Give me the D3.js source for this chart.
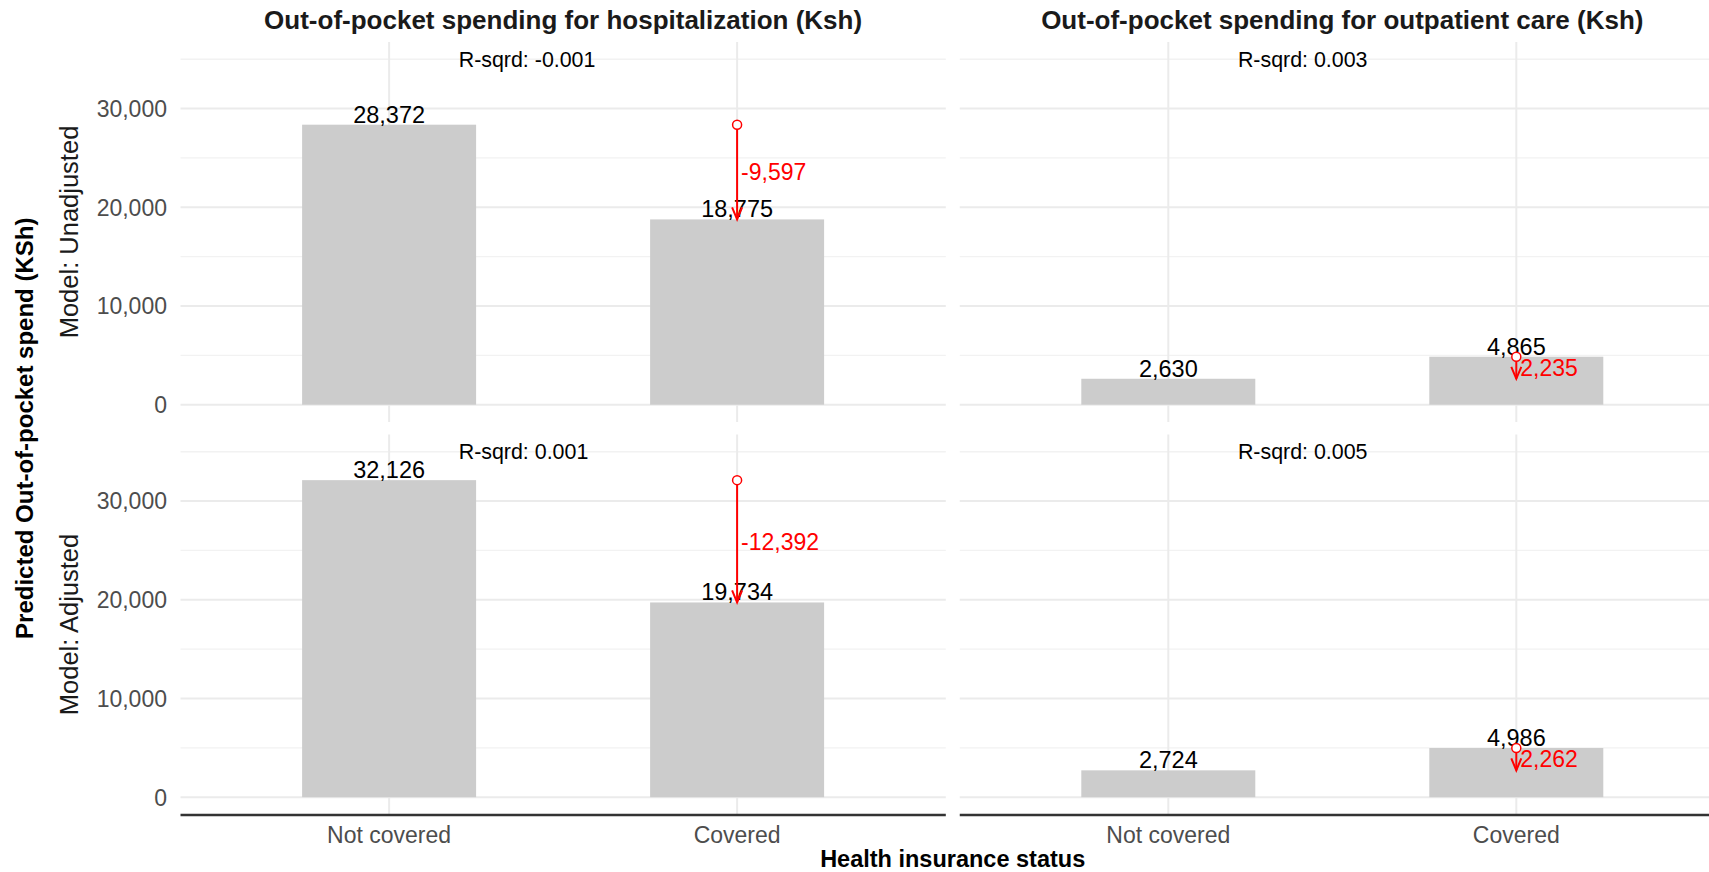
<!DOCTYPE html>
<html>
<head>
<meta charset="utf-8">
<script src="https://cdn.jsdelivr.net/npm/d3@7"></script>
<style>
  body { margin: 0; background: #fff; }
  svg { display: block; font-family: "Liberation Sans", Arial, Helvetica, sans-serif; }
  .grid-major { stroke: #ebebeb; stroke-width: 2; }
  .grid-minor { stroke: #f2f2f2; stroke-width: 1.3; }
  .tick-label { fill: #4d4d4d; font-size: 23px; }
  .bar-label { fill: #000; font-size: 23.5px; }
  .diff-label { fill: #ff0000; font-size: 23px; }
  .rsq-label { fill: #000; font-size: 21.4px; }
</style>
</head>
<body>
<svg id="chart" width="1709" height="872"></svg>
<script>
  // facets
  const rowLabels = ['Model: Unadjusted', 'Model: Adjusted'];
  const colLabels = ['Out-of-pocket spending for hospitalization (Ksh)', 'Out-of-pocket spending for outpatient care (Ksh)'];
  const categories = ['Not covered', 'Covered'];

  // one entry per panel: [unadj hosp, unadj outpatient, adj hosp, adj outpatient]
  const notCoveredValues = [28372, 2630, 32126, 2724];
  const coveredValues = [18775, 4865, 19734, 4986];
  const diffLabels = ['-9,597', '2,235', '-12,392', '2,262'];
  const rsqLabels = ['R-sqrd: -0.001', 'R-sqrd: 0.003', 'R-sqrd: 0.001', 'R-sqrd: 0.005'];
  const rsqY = 35000;

  const majorTicks = [0, 10000, 20000, 30000];
  const minorTicks = [5000, 15000, 25000, 35000];
  const yDomain = [-1750, 36750];

  const svg = d3.select('#chart');
  const fmt = d3.format(',');

  const panelW = 765.6, panelH = 380;
  const colX = [180.3, 959.5];
  const rowY = [42, 434.5];

  const defs = svg.append('defs');
  colX.forEach((x0, c) => {
    defs.append('clipPath').attr('id', 'clip' + c)
      .append('rect').attr('x', x0).attr('y', 0).attr('width', panelW).attr('height', 872);
  });

  rowLabels.forEach((rowLabel, r) => {
    const y0 = rowY[r];
    const y = d3.scaleLinear().domain(yDomain).range([y0 + panelH, y0]);

    // y tick labels, only on left column
    svg.append('g').selectAll('text').data(majorTicks).join('text')
      .attr('class', 'tick-label')
      .attr('x', 167).attr('y', d => y(d)).attr('dy', '0.36em')
      .attr('text-anchor', 'end')
      .text(d => fmt(d));

    // row strip
    svg.append('text')
      .attr('transform', `translate(78,${y0 + panelH / 2}) rotate(-90)`)
      .attr('text-anchor', 'middle')
      .attr('fill', '#1a1a1a')
      .style('font-size', '25.5px')
      .text(rowLabel);

    colLabels.forEach((colLabel, c) => {
      const i = r * 2 + c;
      const x0 = colX[c];
      const x = d3.scalePoint().domain(categories).range([x0, x0 + panelW]).padding(0.6);
      const barW = x.step() * 0.5;
      const g = svg.append('g').attr('clip-path', `url(#clip${c})`);

      g.selectAll('.minor').data(minorTicks).join('line')
        .attr('class', 'grid-minor')
        .attr('x1', x0).attr('x2', x0 + panelW)
        .attr('y1', d => y(d)).attr('y2', d => y(d));
      g.selectAll('.major').data(majorTicks).join('line')
        .attr('class', 'grid-major')
        .attr('x1', x0).attr('x2', x0 + panelW)
        .attr('y1', d => y(d)).attr('y2', d => y(d));
      g.selectAll('.vgrid').data(categories).join('line')
        .attr('class', 'grid-major')
        .attr('x1', d => x(d)).attr('x2', d => x(d))
        .attr('y1', y0).attr('y2', y0 + panelH);

      const vals = [notCoveredValues[i], coveredValues[i]];
      g.selectAll('rect.bar').data(vals).join('rect')
        .attr('class', 'bar')
        .attr('fill', '#cccccc')
        .attr('x', (d, k) => x(categories[k]) - barW / 2)
        .attr('width', barW)
        .attr('y', d => y(d))
        .attr('height', d => y(0) - y(d));

      g.selectAll('text.bar-label').data(vals).join('text')
        .attr('class', 'bar-label')
        .attr('x', (d, k) => x(categories[k]))
        .attr('y', d => y(d) - 2)
        .attr('text-anchor', 'middle')
        .text(d => fmt(d));

      // difference arrow drawn at the covered position
      const cx = x(categories[1]);
      const hi = d3.max(vals), lo = d3.min(vals);
      const tip = y(lo);
      g.append('line')
        .attr('x1', cx).attr('x2', cx)
        .attr('y1', y(hi)).attr('y2', tip)
        .attr('stroke', '#ff0000').attr('stroke-width', 2);
      g.append('path')
        .attr('d', `M${cx - 5},${tip - 12}L${cx},${tip}L${cx + 5},${tip - 12}`)
        .attr('fill', 'none').attr('stroke', '#ff0000').attr('stroke-width', 2);
      g.append('circle')
        .attr('cx', cx).attr('cy', y(hi)).attr('r', 4.5)
        .attr('fill', '#fff').attr('stroke', '#ff0000').attr('stroke-width', 1.5);
      g.append('text')
        .attr('class', 'diff-label')
        .attr('x', cx + 4).attr('y', y((hi + lo) / 2)).attr('dy', '0.36em')
        .text(diffLabels[i]);

      g.append('text')
        .attr('class', 'rsq-label')
        .attr('x', x(categories[0]) + x.step() * 0.2)
        .attr('y', y(rsqY)).attr('dy', '0.36em')
        .text(rsqLabels[i]);

      if (r === 0) {
        svg.append('text')
          .attr('x', x0 + panelW / 2).attr('y', 29)
          .attr('text-anchor', 'middle')
          .attr('fill', '#1a1a1a')
          .style('font-size', '26px').style('font-weight', 'bold')
          .text(colLabel);
      }
      if (r === rowLabels.length - 1) {
        g.append('line')
          .attr('x1', x0).attr('x2', x0 + panelW)
          .attr('y1', y0 + panelH + 0.5).attr('y2', y0 + panelH + 0.5)
          .attr('stroke', '#333').attr('stroke-width', 2.6);
        svg.append('g').selectAll('text').data(categories).join('text')
          .attr('class', 'tick-label')
          .attr('x', d => x(d)).attr('y', 843)
          .attr('text-anchor', 'middle')
          .text(d => d);
      }
    });
  });

  // axis titles
  svg.append('text')
    .attr('transform', `translate(33,${(rowY[0] + rowY[1] + panelH) / 2}) rotate(-90)`)
    .attr('text-anchor', 'middle')
    .style('font-size', '24px').style('font-weight', 'bold')
    .text('Predicted Out-of-pocket spend (KSh)');

  svg.append('text')
    .attr('x', (colX[0] + colX[1] + panelW) / 2).attr('y', 867)
    .attr('text-anchor', 'middle')
    .style('font-size', '23.5px').style('font-weight', 'bold')
    .text('Health insurance status');
</script>
</body>
</html>
